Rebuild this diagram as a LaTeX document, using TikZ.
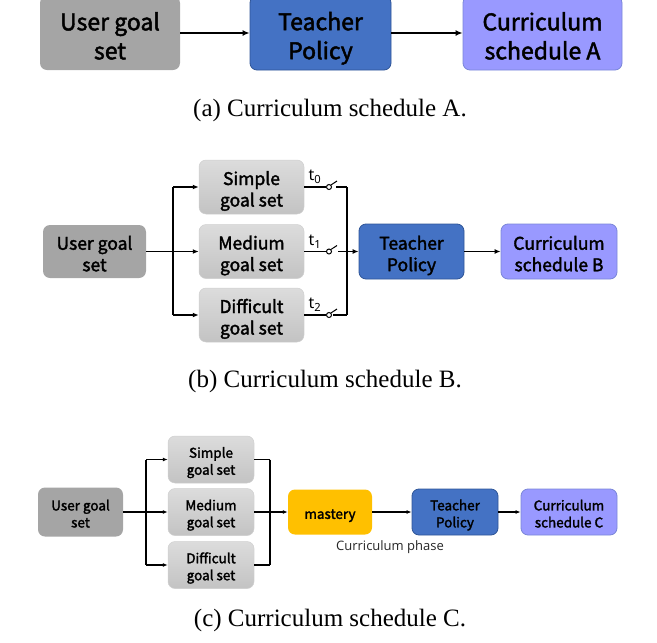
\documentclass[tikz,border=0pt]{standalone}
\usepackage{fontspec}
\setmainfont{Liberation Serif}
\newfontfamily\boxfont[FakeBold=2]{Noto Sans CJK SC}
\newfontfamily\phasefont{Open Sans}
\newfontfamily\labfont{Noto Sans}
\usetikzlibrary{arrows.meta}
\newcommand\topstrut{\rule{0pt}{1.25em}}
\newcommand\botstrut{\rule[-0.22em]{0pt}{0pt}}
\definecolor{usergray}{HTML}{A5A5A5}
\definecolor{goaltop}{HTML}{DCDCDC}
\definecolor{goalbot}{HTML}{C3C3C3}
\definecolor{goalline}{HTML}{CFCFCF}
\definecolor{teacherblue}{HTML}{4472C4}
\definecolor{teacherline}{HTML}{2F5597}
\definecolor{curricfill}{HTML}{9999FF}
\definecolor{curricline}{HTML}{7A86D8}
\definecolor{masteryellow}{HTML}{FFC000}
\tikzset{
  sz/.style 2 args={minimum width=#1pt, minimum height=#2pt},
  box/.style={rounded corners=7pt, align=center, inner sep=0pt},
  user/.style={box, fill=usergray},
  goal/.style={box, top color=goaltop, bottom color=goalbot, draw=goalline, line width=0.5pt},
  teacher/.style={box, fill=teacherblue, draw=teacherline, line width=0.8pt},
  curric/.style={box, fill=curricfill, draw=curricline, line width=0.8pt},
  master/.style={box, fill=masteryellow},
  fa/.style={font=\boxfont\fontsize{23}{29}\selectfont},
  fb/.style={font=\boxfont\fontsize{17.5}{21.5}\selectfont},
  fc/.style={font=\boxfont\fontsize{13.5}{17}\selectfont},
  lna/.style={line width=2pt},
  arra/.style={lna, -{Latex[length=7pt,width=6pt]}},
  lnb/.style={line width=1.6pt},
  arrb/.style={lnb, -{Latex[length=6pt,width=5pt]}},
  lnc/.style={line width=1.2pt},
  arrc/.style={lnc, -{Latex[length=5pt,width=4pt]}},
  swc/.style={circle, draw, fill=white, line width=1pt, inner sep=0pt, minimum size=5pt},
  lab/.style={font=\labfont\fontsize{16}{16}\selectfont, inner sep=0pt},
  captxt/.style={font=\fontsize{25}{25}\selectfont, inner sep=0pt},
}
\begin{document}
\begin{tikzpicture}[x=1pt,y=-1pt]
\useasboundingbox (0,0) rectangle (657,643);
% ---------- (a)
\node[user, fa, sz={140}{74}] (ua) at (110,33) {\topstrut User goal\\set\botstrut};
\node[teacher, fa, sz={141}{74}] (ta) at (320.5,33) {\topstrut Teacher\\Policy\botstrut};
\node[curric, fa, sz={159}{74}] (ca) at (542.5,33) {\topstrut Curriculum\\schedule A\botstrut};
\draw[arra] (ua) -- (ta);
\draw[arra] (ta) -- (ca);
\node[captxt] (capa) at (330,110) {(a) Curriculum schedule A.};
% ---------- (b)
\node[user, fb, sz={103}{53}] (ub) at (94.5,251.5) {\topstrut User goal\\set\botstrut};
\node[goal, fb, sz={105}{54}] (sb) at (251.5,187) {\topstrut Simple\\goal set\botstrut};
\node[goal, fb, sz={105}{54}] (mb) at (251.5,251.5) {\topstrut Medium\\goal set\botstrut};
\node[goal, fb, sz={105}{54}] (db) at (251.5,315) {\topstrut Difficult\\goal set\botstrut};
\node[teacher, fb, sz={105}{55}] (tb) at (411.5,251.5) {\topstrut Teacher\\Policy\botstrut};
\node[curric, fb, sz={116}{55}] (cb) at (559,251.5) {\topstrut Curriculum\\schedule B\botstrut};
\coordinate (bj) at (173,251.5);
\coordinate (bs) at (173,187);
\coordinate (bd) at (173,315);
\draw[lnb] (ub.east) -- (bj);
\draw[lnb] (bs) -- (bd);
\draw[arrb] (bs) -- (sb.west);
\draw[arrb] (bj) -- (mb.west);
\draw[arrb] (bd) -- (db.west);
% switches
\node[swc] (c0) at (329,187) {};
\node[swc] (c1) at (329,251.5) {};
\node[swc] (c2) at (329,315) {};
\draw[lnb] (sb.east) -- (c0.west);
\draw[lnb] (mb.east) -- (c1.west);
\draw[lnb] (db.east) -- (c2.west);
\coordinate (b0) at (337,181);
\coordinate (b1) at (337,245.5);
\coordinate (b2) at (337,309);
\draw[line width=1pt] (c0.north east) -- (b0);
\draw[line width=1pt] (c1.north east) -- (b1);
\draw[line width=1pt] (c2.north east) -- (b2);
\coordinate (q0) at (336,187);
\coordinate (q1) at (338,251.5);
\coordinate (q2) at (333,315);
\coordinate (k0) at (347,187);
\coordinate (k2) at (347,315);
\draw[line width=2.2pt] (q0) -- (k0);
\draw[lnb] (q2) -- (k2);
\draw[lnb] (k0) -- (k2);
\draw[arrb] (q1) -- (tb.west);
\draw[arrb] (tb) -- (cb);
\node[lab] (l0) at (315,177) {t\textsubscript{0}};
\node[lab] (l1) at (315,241.5) {t\textsubscript{1}};
\node[lab] (l2) at (315,305) {t\textsubscript{2}};
\node[captxt] (capb) at (325,381) {(b) Curriculum schedule B.};
% ---------- (c)
\node[user, fc, sz={85}{49}] (uc) at (80.5,512) {\topstrut User goal\\set\botstrut};
\node[goal, fc, sz={86}{47}] (sc) at (211,459.5) {\topstrut Simple\\goal set\botstrut};
\node[goal, fc, sz={86}{47}] (mc) at (211,512) {\topstrut Medium\\goal set\botstrut};
\node[goal, fc, sz={86}{47}] (dc) at (211,565) {\topstrut Difficult\\goal set\botstrut};
\node[master, fc, sz={84}{45}] (ms) at (330,512) {\topstrut mastery\botstrut};
\node[teacher, fc, sz={86}{46}] (tc) at (455,512) {\topstrut Teacher\\Policy\botstrut};
\node[curric, fc, sz={96}{46}] (cc) at (569,512) {\topstrut Curriculum\\schedule C\botstrut};
\coordinate (cj) at (146,512);
\coordinate (cs) at (146,459.5);
\coordinate (cd) at (146,565);
\coordinate (ks) at (270,459.5);
\coordinate (kd) at (270,565);
\draw[lnc] (uc.east) -- (cj);
\draw[lnc] (cs) -- (cd);
\draw[arrc] (cs) -- (sc.west);
\draw[arrc] (cj) -- (mc.west);
\draw[arrc] (cd) -- (dc.west);
\draw[lnc] (sc.east) -- (ks);
\draw[lnc] (dc.east) -- (kd);
\draw[lnc] (ks) -- (kd);
\draw[arrc] (mc.east) -- (ms.west);
\draw[arrc] (ms) -- (tc);
\draw[arrc] (tc) -- (cc);
\node[font=\phasefont\fontsize{13}{13}\selectfont, text=black!85, inner sep=0pt] (phase) at (390,547) {Curriculum phase};
\node[captxt] (capc) at (330,620) {(c) Curriculum schedule C.};
\end{tikzpicture}
\end{document}
